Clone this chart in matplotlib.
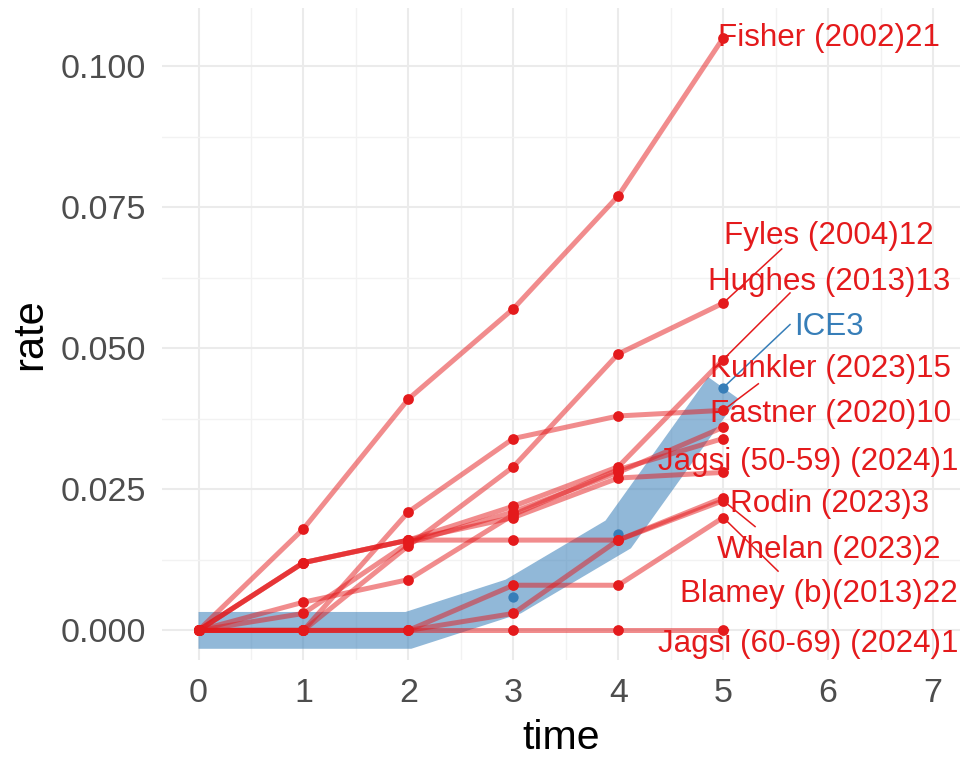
import matplotlib
matplotlib.use("Agg")
import matplotlib.pyplot as plt
from matplotlib.ticker import MultipleLocator, FormatStrFormatter

plt.rcParams["font.family"] = ["Liberation Sans", "DejaVu Sans"]

# data
time = [0, 1, 2, 3, 4, 5]

study_names = [
    "Fisher (2002)21",
    "Fyles (2004)12",
    "Hughes (2013)13",
    "Kunkler (2023)15",
    "Fastner (2020)10",
    "Jagsi (50-59) (2024)1",
    "Rodin (2023)3",
    "Whelan (2023)2",
    "Blamey (b)(2013)22",
    "Jagsi (60-69) (2024)1",
    "",
]

fisher = [0, 0.018, 0.041, 0.057, 0.077, 0.105]
fyles = [0, 0, 0.015, 0.029, 0.049, 0.058]
hughes = [0, 0.012, 0.016, 0.022, 0.029, 0.048]
kunkler = [0, 0, 0.021, 0.034, 0.038, 0.039]
fastner = [0, 0.003, 0.0155, 0.021, 0.028, 0.036]
jagsi_50 = [0, 0.012, 0.016, 0.020, 0.027, 0.028]
rodin = [0, 0.012, 0.016, 0.016, 0.016, 0.0235]
whelan = [0, 0, 0, 0.003, 0.016, 0.023]
blamey_b = [0, 0, 0, 0.008, 0.008, 0.020]
jagsi_60 = [0, 0, 0, 0, 0, 0]
unlabelled = [0, 0.005, 0.009, 0.0205, 0.0285, 0.034]

study_rates = [fisher, fyles, hughes, kunkler, fastner, jagsi_50,
               rodin, whelan, blamey_b, jagsi_60, unlabelled]

ice3_name = "ICE3"
ice3 = [0, 0, 0, 0.006, 0.017, 0.043]

# label layout (text position, alignment, segment start), like ggrepel placed them
label_layout = {
    "Fisher (2002)21": (6.01, 0.1049, "center", None),
    "Fyles (2004)12": (6.01, 0.0699, "center", (5.558, 0.0676)),
    "Hughes (2013)13": (6.01, 0.0618, "center", (5.637, 0.0598)),
    "Kunkler (2023)15": (6.02, 0.0463, "center", (5.335, 0.0437)),
    "Fastner (2020)10": (6.02, 0.0383, "center", None),
    "Jagsi (50-59) (2024)1": (7.24, 0.0298, "right", None),
    "Rodin (2023)3": (6.01, 0.0224, "center", None),
    "Whelan (2023)2": (6.01, 0.0142, "center", (5.304, 0.0184)),
    "Blamey (b)(2013)22": (7.24, 0.0064, "right", (5.523, 0.0105)),
    "Jagsi (60-69) (2024)1": (7.24, -0.0024, "right", None),
}
ice3_layout = (6.01, 0.0538, (5.637, 0.0542))

# pointer of Kunkler goes to the Fastner-level point
pointer_target = {"Kunkler (2023)15": 0.039}

red = "#E41A1C"
blue = "#377EB8"

fig = plt.figure(figsize=(9.6, 7.58), dpi=100)
ax = fig.add_axes([162 / 960, 1 - 660 / 758, 1 - 162 / 960, (660 - 8.3) / 758])

# ICE3 drawn as a wide translucent band
ax.plot(time, ice3, color=blue, alpha=0.55, linewidth=26.5,
        solid_capstyle="butt", solid_joinstyle="miter", zorder=2)
ax.scatter(time[3:], ice3[3:], color=blue, s=55, zorder=3, linewidths=0)

for rates in study_rates:
    ax.plot(time, rates, color=red, alpha=0.5, linewidth=3.6, zorder=4,
            solid_capstyle="butt")
for rates in study_rates:
    ax.scatter(time, rates, color=red, s=60, zorder=5, linewidths=0)

# labels
for name, rates in zip(study_names, study_rates):
    if name not in label_layout:
        continue
    lx, ly, ha, seg = label_layout[name]
    if seg is not None:
        ty = pointer_target.get(name, rates[-1])
        ax.plot([seg[0], time[-1]], [seg[1], ty], color=red, linewidth=1.1, zorder=6)
    ax.text(lx, ly, name, color=red, fontsize=22.6, ha=ha, va="center", zorder=7)

lx, ly, seg = ice3_layout
ax.plot([seg[0], time[-1]], [seg[1], ice3[-1]], color=blue, linewidth=1.1, zorder=6)
ax.text(lx, ly, ice3_name, color=blue, fontsize=22.6, ha="center", va="center", zorder=7)

# axes styling similar to theme_minimal
ax.set_xlim(-0.348, 7.257)
ax.set_ylim(-0.00525, 0.11025)
ax.xaxis.set_major_locator(MultipleLocator(1))
ax.xaxis.set_minor_locator(MultipleLocator(0.5))
ax.yaxis.set_major_locator(MultipleLocator(0.025))
ax.yaxis.set_minor_locator(MultipleLocator(0.0125))
ax.yaxis.set_major_formatter(FormatStrFormatter("%.3f"))
ax.grid(which="major", color="#EBEBEB", linewidth=1.5)
ax.grid(which="minor", color="#F2F2F2", linewidth=1.0)
ax.set_axisbelow(True)
for side in ax.spines.values():
    side.set_visible(False)
ax.tick_params(which="both", length=0)
ax.tick_params(axis="y", labelsize=24.5, labelcolor="#4D4D4D", pad=11.5)
ax.tick_params(axis="x", labelsize=24.5, labelcolor="#4D4D4D", pad=13)

ax.set_xlabel("time", fontsize=29.5, va="baseline")
ax.set_ylabel("rate", fontsize=30, va="center", ha="center")
ax.xaxis.set_label_coords(0.5, -(749 - 660) / 651.7)
ax.yaxis.set_label_coords(-132 / 798, 0.5)

fig.savefig("out.png", dpi=100)
